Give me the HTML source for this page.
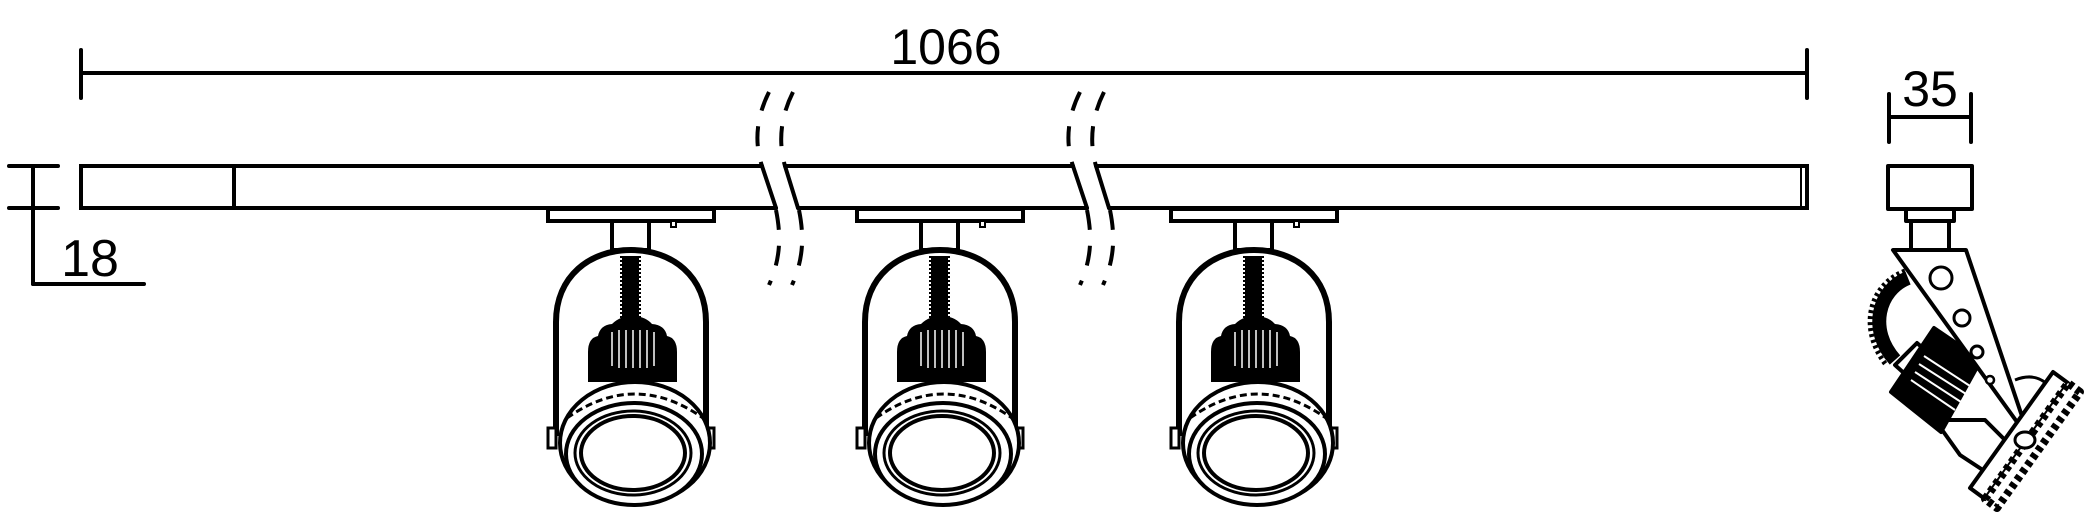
<!DOCTYPE html>
<html><head><meta charset="utf-8"><style>
html,body{margin:0;padding:0;background:#fff;}
svg{display:block;}
text{font-family:"Liberation Sans",sans-serif;fill:#000;}
</style></head><body>
<svg width="2088" height="515" viewBox="0 0 2088 515" xmlns="http://www.w3.org/2000/svg">
<defs>
<g id="spot">
  <rect x="548" y="209" width="166" height="12" fill="#fff" stroke="#000" stroke-width="4"/>
  <rect x="671" y="221" width="5" height="6" fill="#fff" stroke="#000" stroke-width="2"/>
  <rect x="612" y="221" width="37" height="29" fill="#fff" stroke="#000" stroke-width="4"/>
  <path d="M556,436 L556,322 C556,276 590,250 631,250 C672,250 706,276 706,322 L706,436" fill="none" stroke="#000" stroke-width="6"/>
  <rect x="548" y="428" width="8" height="20" fill="#fff" stroke="#000" stroke-width="3"/>
  <rect x="706" y="428" width="8" height="20" fill="#fff" stroke="#000" stroke-width="3"/>
  <rect x="622" y="256" width="17" height="75" fill="#000"/>
  <line x1="621" y1="256" x2="621" y2="331" stroke="#000" stroke-width="2" stroke-dasharray="2 2"/>
  <line x1="640" y1="256" x2="640" y2="331" stroke="#000" stroke-width="2" stroke-dasharray="2 2"/>
  <path d="M588,382 L588,352 Q588,338 598,336 Q600,325 612,324 Q620,316 632,316 Q645,316 652,324 Q665,325 667,336 Q677,338 677,352 L677,382 Z" fill="#000"/>
  <g stroke="#fff" stroke-width="1.5">
    <line x1="612" y1="332" x2="612" y2="366"/><line x1="619" y1="330" x2="619" y2="368"/>
    <line x1="626" y1="330" x2="626" y2="368"/><line x1="633" y1="330" x2="633" y2="368"/>
    <line x1="640" y1="330" x2="640" y2="368"/><line x1="647" y1="330" x2="647" y2="368"/>
    <line x1="654" y1="332" x2="654" y2="366"/>
  </g>
  <ellipse cx="635" cy="443" rx="75" ry="61" fill="#fff" stroke="#000" stroke-width="4"/>
  <path d="M567,418 Q635,370 703,418" fill="none" stroke="#000" stroke-width="3" stroke-dasharray="7 4"/>
  <ellipse cx="634" cy="454" rx="68" ry="51" fill="#fff" stroke="#000" stroke-width="4"/>
  <ellipse cx="633" cy="453" rx="58" ry="42" fill="#fff" stroke="#000" stroke-width="3"/>
  <ellipse cx="633" cy="453" rx="52" ry="37" fill="#fff" stroke="#000" stroke-width="4"/>
</g>
</defs>

<g stroke="#000" stroke-width="4" fill="none" stroke-linecap="round">
  <line x1="81" y1="50" x2="81" y2="98"/>
  <line x1="1807" y1="50" x2="1807" y2="98"/>
  <line x1="81" y1="73" x2="1807" y2="73"/>
  <line x1="9" y1="166" x2="58" y2="166"/>
  <line x1="9" y1="208" x2="58" y2="208"/>
  <line x1="33" y1="166" x2="33" y2="284"/>
  <line x1="33" y1="284" x2="144" y2="284"/>
  <path d="M762,166 L81,166 L81,208 L776,208"/>
  <line x1="234" y1="166" x2="234" y2="208"/>
  <path d="M785,166 L1073,166 M798,208 L1087,208"/>
  <path d="M1096,166 L1807,166 L1807,208 L1109,208"/>
  <line x1="1801" y1="168" x2="1801" y2="206" stroke-width="2"/>
  <path d="M762,166 L776,208 M785,166 L798,208"/>
  <path d="M1073,166 L1087,208 M1096,166 L1109,208"/>
  <line x1="1889" y1="94" x2="1889" y2="142"/>
  <line x1="1971" y1="94" x2="1971" y2="142"/>
  <line x1="1889" y1="117" x2="1971" y2="117"/>
</g>
<g stroke="#000" stroke-width="4" fill="none" stroke-dasharray="20 16">
  <path d="M769,92 C755,120 755,145 762,166"/>
  <path d="M793,92 C779,120 779,145 785,166"/>
  <path d="M776,210 C781,235 781,258 769,285"/>
  <path d="M799,210 C804,235 804,258 792,285"/>
  <path d="M1080,92 C1066,120 1066,145 1073,166"/>
  <path d="M1104,92 C1090,120 1090,145 1096,166"/>
  <path d="M1087,210 C1092,235 1092,258 1080,285"/>
  <path d="M1110,210 C1115,235 1115,258 1103,285"/>
</g>

<text x="946" y="64" font-size="50" text-anchor="middle">1066</text>
<text x="90" y="276" font-size="52" text-anchor="middle">18</text>
<text x="1930" y="106" font-size="50" text-anchor="middle">35</text>

<use href="#spot"/>
<use href="#spot" x="309"/>
<use href="#spot" x="623"/>

<g stroke="#000" stroke-width="4" stroke-linejoin="round">
  <rect x="1888" y="166" width="84" height="43" fill="#fff"/>
  <rect x="1906" y="209" width="48" height="12" fill="#fff"/>
  <rect x="1911" y="221" width="38" height="29" fill="#fff"/>
  <path d="M1908,278 C1878,290 1868,330 1895,360" fill="none" stroke-width="14"/>
  <path d="M1905,271 C1868,285 1858,330 1887,366" fill="none" stroke-width="5" stroke-dasharray="3 3"/>
  <path d="M1935,420 L1960,455 L1995,478 L2015,450 L1985,420 Z" fill="#fff"/>
  <path d="M2015,380 Q2035,372 2048,385" fill="none" stroke-width="3"/>
  <path d="M1895,365 L1917,343 L1965,385 L1945,410 Z" fill="#fff"/>
  <path d="M1891,392 L1934,328 L1981,360 L1941,432 Z" fill="#000"/>
  <g stroke="#fff" stroke-width="2">
    <line x1="1911" y1="380" x2="1955" y2="410"/><line x1="1915" y1="372" x2="1961" y2="402"/>
    <line x1="1919" y1="364" x2="1966" y2="394"/><line x1="1924" y1="356" x2="1970" y2="386"/>
  </g>
  <path d="M1893,250 L1966,250 L2030,440 Z" fill="#fff"/>
  <circle cx="1941" cy="278" r="11" fill="#fff" stroke-width="3"/>
  <circle cx="1962" cy="318" r="8" fill="#fff" stroke-width="3"/>
  <circle cx="1977" cy="352" r="6" fill="#fff" stroke-width="3"/>
  <circle cx="1990" cy="380" r="4" fill="#fff" stroke-width="2.5"/>
  <path d="M1970,488 L2053,372 L2068,383 L1985,499 Z" fill="#fff"/>
  <path d="M1985,499 L2068,383 L2080,392 L1997,508 Z" fill="#fff" stroke-dasharray="5 4" stroke-width="8"/>
  <ellipse cx="2025" cy="440" rx="10" ry="8" fill="#fff" stroke-width="3"/>
</g>
</svg>
</body></html>
